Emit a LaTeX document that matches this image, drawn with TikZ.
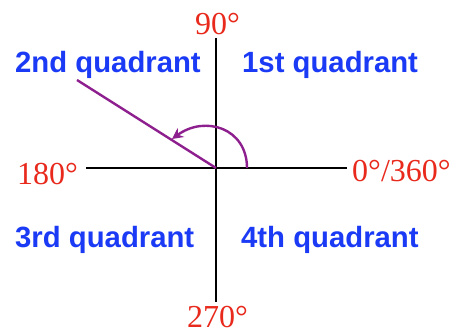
\documentclass[tikz,border=0pt]{standalone}
\usepackage{fontspec}
\setmainfont{Liberation Serif}
\newfontfamily\quadfont{Liberation Sans}
\usetikzlibrary{arrows.meta}
\definecolor{angred}{HTML}{E8291C}
\definecolor{quadblue}{HTML}{1A3AF5}
\definecolor{rayviolet}{HTML}{8E1F8E}

\begin{document}
\begin{tikzpicture}[x=1pt,y=-1pt,
    degreelabel/.style={font=\fontsize{32}{34}\selectfont,angred,inner sep=0pt},
    quadlabel/.style={font=\quadfont\bfseries\fontsize{29.3}{31}\selectfont,quadblue,inner sep=0pt,anchor=base west}]
  \fill[white] (0,0) rectangle (469,331);
  \useasboundingbox (0,0) rectangle (469,331);

  % Axes
  \coordinate (O) at (216,168);
  \coordinate (left) at (86,168);
  \coordinate (right) at (347,168);
  \coordinate (top) at (216,38);
  \coordinate (bottom) at (216,302);
  \draw[black,line width=2.8pt] (left) -- (right);
  \draw[black,line width=2.8pt] (top) -- (bottom);

  % Angle labels
  \node[degreelabel,anchor=base] (deg90) at (217.5,35) {90°};
  \node[degreelabel,anchor=base] (deg270) at (217.5,327) {270°};
  \node[degreelabel,anchor=base west] (deg180) at (17,185) {180°};
  \node[degreelabel,anchor=base west] (deg0) at (352,182) {0°/360°};

  % Quadrants
  \node[quadlabel] (q2) at (15,73) {2nd quadrant};
  \node[quadlabel] (q1) at (242,73) {1st quadrant};
  \node[quadlabel] (q3) at (15,248) {3rd quadrant};
  \node[quadlabel] (q4) at (241,248) {4th quadrant};

  % Terminal side and rotation
  \coordinate (ray) at (77,80);
  \coordinate (arcstart) at (247,168);
  \coordinate (arcend) at (172,139);
  \draw[rayviolet,line width=2.4pt] (O) -- (ray);
  \draw[rayviolet,line width=2.4pt,-{Stealth[length=11pt,width=11pt]}]
    (arcstart) .. controls (247,128) and (205,115) .. (arcend);
\end{tikzpicture}
\end{document}
